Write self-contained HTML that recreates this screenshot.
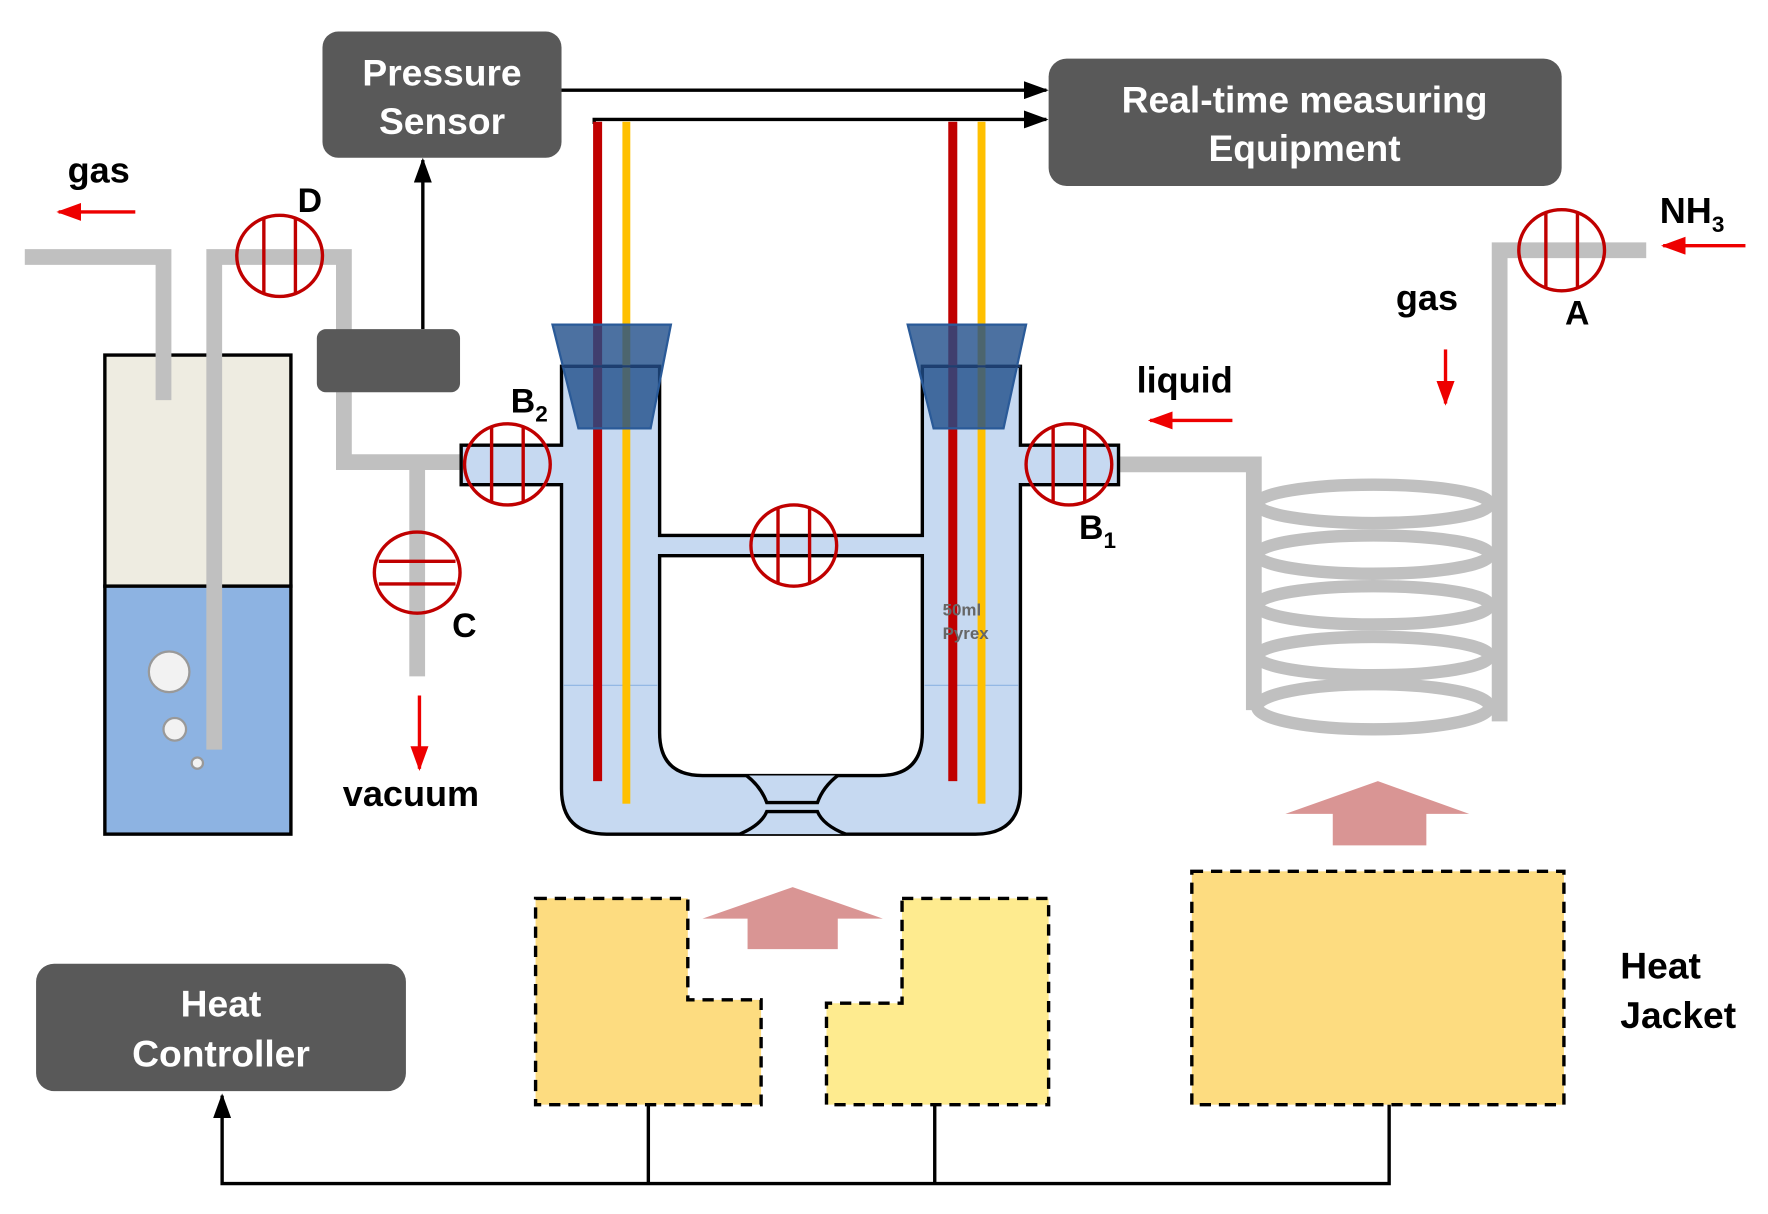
<!DOCTYPE html>
<html><head><meta charset="utf-8"><style>
html,body{margin:0;padding:0;background:#fff;}
svg{display:block;}
text{font-family:"Liberation Sans",sans-serif;font-weight:bold;}
</style></head><body>
<svg width="1768" height="1214" viewBox="0 0 1568 1077" preserveAspectRatio="none" xmlns="http://www.w3.org/2000/svg">
<defs>
<marker id="ab" markerWidth="8" markerHeight="8" refX="7" refY="4" orient="auto" markerUnits="userSpaceOnUse"><path d="M0,0 L8,4 L0,8 Z" fill="#000"/></marker>
<marker id="ab2" markerWidth="22" markerHeight="16" refX="20" refY="8" orient="auto" markerUnits="userSpaceOnUse"><path d="M0,0 L22,8 L0,16 Z" fill="#000"/></marker>
<marker id="ar" markerWidth="22" markerHeight="16" refX="20" refY="8" orient="auto" markerUnits="userSpaceOnUse"><path d="M0,0 L22,8 L0,16 Z" fill="#e00"/></marker>
</defs>

<!-- boxes -->
<rect x="286" y="28" width="212" height="112" rx="14" fill="#595959"/>
<text x="392" y="76" font-size="33" fill="#fff" text-anchor="middle">Pressure</text>
<text x="392" y="119" font-size="33" fill="#fff" text-anchor="middle">Sensor</text>
<rect x="930" y="52" width="455" height="113" rx="16" fill="#595959"/>
<text x="1157" y="100" font-size="33" fill="#fff" text-anchor="middle">Real-time measuring</text>
<text x="1157" y="143" font-size="33" fill="#fff" text-anchor="middle">Equipment</text>
<rect x="32" y="855" width="328" height="113" rx="16" fill="#595959"/>
<text x="196" y="902" font-size="33" fill="#fff" text-anchor="middle">Heat</text>
<text x="196" y="946" font-size="33" fill="#fff" text-anchor="middle">Controller</text>

<!-- signal lines -->
<line x1="498" y1="80" x2="928" y2="80" stroke="#000" stroke-width="3" marker-end="url(#ab2)"/>
<polyline points="527,110 527,106 928,106" fill="none" stroke="#000" stroke-width="3" marker-end="url(#ab2)"/>
<line x1="375" y1="292" x2="375" y2="142" stroke="#000" stroke-width="3" marker-end="url(#ab2)"/>
<polyline points="575,980 575,1050" fill="none" stroke="#000" stroke-width="3"/>
<polyline points="829,980 829,1050" fill="none" stroke="#000" stroke-width="3"/>
<polyline points="1232,980 1232,1050 197,1050 197,972" fill="none" stroke="#000" stroke-width="3" marker-end="url(#ab2)"/>

<!-- heat jackets -->
<path d="M475,797 L610,797 L610,887 L675,887 L675,980 L475,980 Z" fill="#fddc80" stroke="#000" stroke-width="3" stroke-dasharray="10,7"/>
<path d="M800,797 L930,797 L930,980 L733,980 L733,890 L800,890 Z" fill="#feeb8f" stroke="#000" stroke-width="3" stroke-dasharray="10,7"/>
<rect x="1057" y="773" width="330" height="207" fill="#fddc80" stroke="#000" stroke-width="3" stroke-dasharray="10,7"/>
<text x="1437" y="868" font-size="33">Heat</text>
<text x="1437" y="912" font-size="33">Jacket</text>
<path d="M703,787 L783,815 L743,815 L743,842 L663,842 L663,815 L623,815 Z" fill="#d99594"/>
<path d="M1222,693 L1303,722 L1265,722 L1265,750 L1182,750 L1182,722 L1140,722 Z" fill="#d99594"/>

<!-- left bottle -->
<rect x="93" y="315" width="165" height="205" fill="#eeece1" stroke="#000" stroke-width="3"/>
<rect x="93" y="520" width="165" height="220" fill="#8db3e2" stroke="#000" stroke-width="3"/>

<!-- gray pipes -->
<g fill="none" stroke="#c0c0c0" stroke-width="14">
<polyline points="22,228 145,228 145,355"/>
<polyline points="190,665 190,228 305,228 305,410 420,410"/>
<polyline points="370,410 370,600"/>
<polyline points="992,412 1112,412 1112,630"/>
<polyline points="1460,222 1330,222 1330,640"/>
</g>
<g fill="none" stroke="#c0c0c0" stroke-width="11">
<ellipse cx="1218" cy="447" rx="103" ry="17"/>
<ellipse cx="1218" cy="492" rx="103" ry="17"/>
<ellipse cx="1218" cy="537" rx="103" ry="17"/>
<ellipse cx="1218" cy="582" rx="103" ry="17"/>
<ellipse cx="1218" cy="627" rx="103" ry="20"/>
</g>
<circle cx="150" cy="596" r="18" fill="#f2f2f2" stroke="#999" stroke-width="2"/>
<circle cx="155" cy="647" r="10" fill="#f2f2f2" stroke="#999" stroke-width="2"/>
<circle cx="175" cy="677" r="5" fill="#f2f2f2" stroke="#999" stroke-width="2"/>
<rect x="281" y="292" width="127" height="56" rx="8" fill="#595959"/>

<!-- vessel -->
<path d="M498,325 L498,395 L409,395 L409,430 L498,430 L498,700 Q498,740 538,740 L865,740 Q905,740 905,700 L905,430 L992,430 L992,395 L905,395 L905,325 L818,325 L818,475 L585,475 L585,325 Z" fill="#c6d9f1" stroke="#000" stroke-width="3"/>
<path d="M585,493 L818,493 L818,650 Q818,688 780,688 L623,688 Q585,688 585,650 Z" fill="#fff" stroke="#000" stroke-width="3"/>
<path d="M662,688 Q675,698 680,712 L725,712 Q730,698 743,688" fill="#c6d9f1" stroke="#000" stroke-width="3"/>
<path d="M656,740 Q675,732 680,720 L725,720 Q730,732 750,740" fill="#c6d9f1" stroke="#000" stroke-width="3"/>
<line x1="500" y1="608" x2="583" y2="608" stroke="#8db3e2" stroke-width="1"/>
<line x1="820" y1="608" x2="903" y2="608" stroke="#8db3e2" stroke-width="1"/>
<rect x="526" y="108" width="8" height="585" fill="#c00000"/>
<rect x="552" y="108" width="7" height="605" fill="#ffc000"/>
<rect x="841" y="108" width="8" height="585" fill="#c00000"/>
<rect x="867" y="108" width="7" height="605" fill="#ffc000"/>
<path d="M490,288 L595,288 L577,380 L513,380 Z" fill="#1f4e89" fill-opacity="0.8" stroke="#2a5a98" stroke-width="2"/>
<path d="M805,288 L910,288 L890,380 L828,380 Z" fill="#1f4e89" fill-opacity="0.8" stroke="#2a5a98" stroke-width="2"/>
<line x1="498" y1="325" x2="585" y2="325" stroke="#1f3f70" stroke-width="2"/>
<line x1="818" y1="325" x2="905" y2="325" stroke="#1f3f70" stroke-width="2"/>
<text x="836" y="546" font-size="15" fill="#666" font-weight="normal">50ml</text>
<text x="836" y="567" font-size="15" fill="#666" font-weight="normal">Pyrex</text>

<!-- valves -->
<g fill="none" stroke="#c00000" stroke-width="3">
<ellipse cx="248" cy="227" rx="38" ry="36"/><line x1="234" y1="193" x2="234" y2="261"/><line x1="262" y1="193" x2="262" y2="261"/>
<ellipse cx="1385" cy="222" rx="38" ry="36"/><line x1="1371" y1="188" x2="1371" y2="256"/><line x1="1399" y1="188" x2="1399" y2="256"/>
<ellipse cx="370" cy="508" rx="38" ry="36"/><line x1="336" y1="498" x2="404" y2="498"/><line x1="336" y1="518" x2="404" y2="518"/>
<ellipse cx="450" cy="412" rx="38" ry="36"/><line x1="436" y1="378" x2="436" y2="446"/><line x1="464" y1="378" x2="464" y2="446"/>
<ellipse cx="948" cy="412" rx="38" ry="36"/><line x1="934" y1="378" x2="934" y2="446"/><line x1="962" y1="378" x2="962" y2="446"/>
<ellipse cx="704" cy="484" rx="38" ry="36"/><line x1="690" y1="450" x2="690" y2="518"/><line x1="718" y1="450" x2="718" y2="518"/>
</g>

<!-- red arrows -->
<g stroke="#e00" stroke-width="3">
<line x1="120" y1="188" x2="52" y2="188" marker-end="url(#ar)"/>
<line x1="1548" y1="218" x2="1475" y2="218" marker-end="url(#ar)"/>
<line x1="1282" y1="310" x2="1282" y2="358" marker-end="url(#ar)"/>
<line x1="1093" y1="373" x2="1020" y2="373" marker-end="url(#ar)"/>
<line x1="372" y1="617" x2="372" y2="682" marker-end="url(#ar)"/>
</g>

<!-- labels -->
<text x="60" y="162" font-size="32">gas</text>
<text x="264" y="188" font-size="30">D</text>
<text x="1472" y="198" font-size="32">NH<tspan font-size="20" dy="8">3</tspan></text>
<text x="1238" y="275" font-size="32">gas</text>
<text x="1388" y="288" font-size="30">A</text>
<text x="1008" y="348" font-size="32">liquid</text>
<text x="453" y="366" font-size="30">B<tspan font-size="20" dy="8">2</tspan></text>
<text x="957" y="478" font-size="30">B<tspan font-size="20" dy="8">1</tspan></text>
<text x="401" y="565" font-size="30">C</text>
<text x="304" y="715" font-size="32">vacuum</text>
</svg>
</body></html>
